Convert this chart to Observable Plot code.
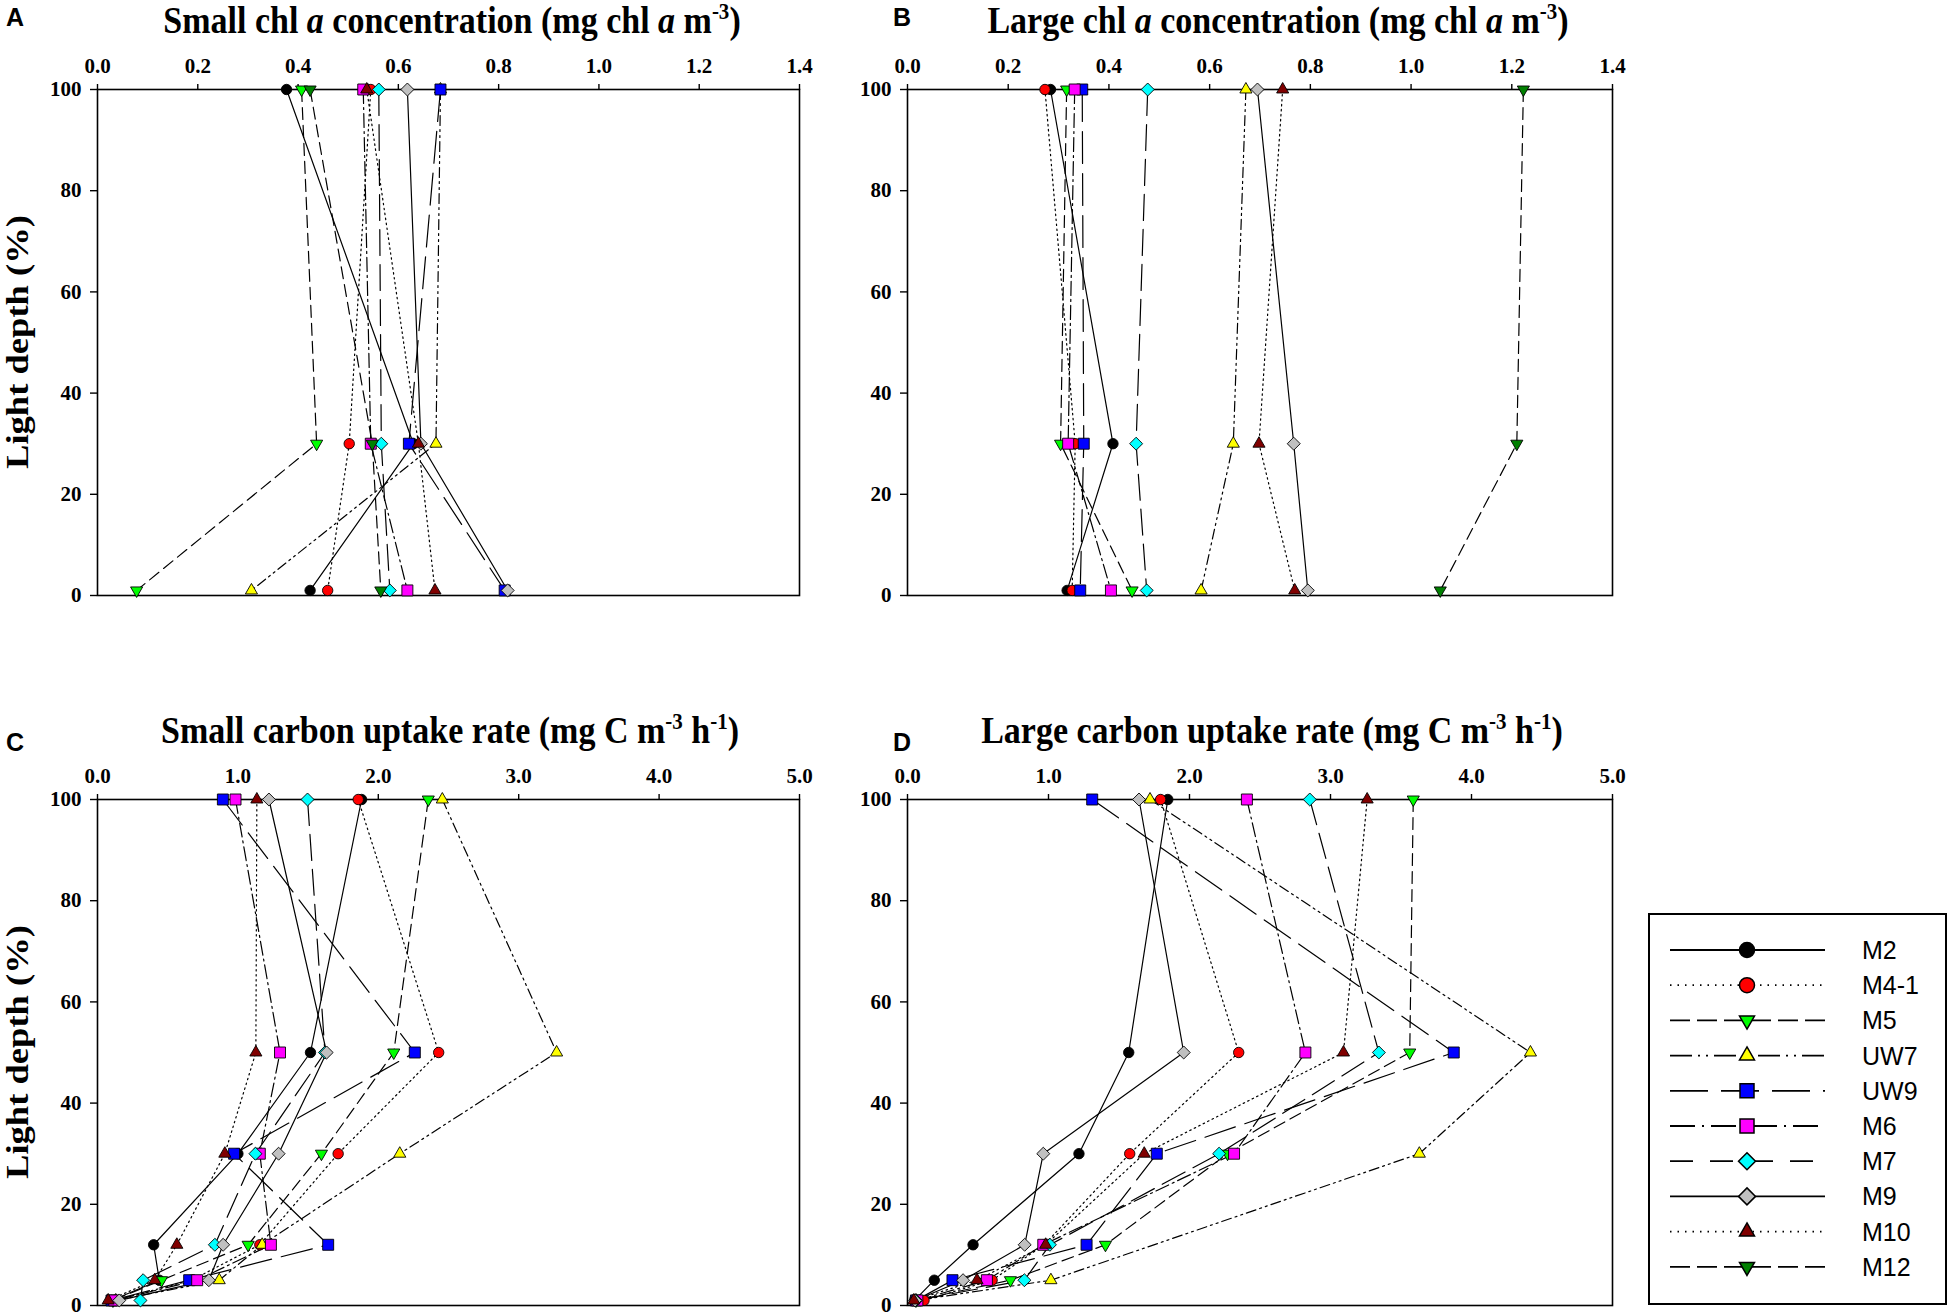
<!DOCTYPE html>
<html><head><meta charset="utf-8">
<script src="https://cdn.jsdelivr.net/npm/d3@7"></script>
<script src="https://cdn.jsdelivr.net/npm/@observablehq/plot@0.6"></script>
<style>
html,body{margin:0;padding:0;background:#fff;}
#root{position:relative;width:1950px;height:1314px;overflow:hidden;background:#fff;}
#overlay{position:absolute;left:0;top:0;pointer-events:none;}
</style></head>
<body><div id="root"></div>
<script>
// ---------- data ----------
const stations = ["M2","M4-1","M5","UW7","UW9","M6","M7","M9","M10","M12"];
const stationFill = ["#000000","#ff0000","#00ff00","#ffff00","#0000ff","#ff00ff","#00ffff","#c0c0c0","#800000","#008000"];
const stationShape = ["circle","circle","triangleDown","triangle","square","square","diamond","diamond","triangle","triangleDown"];
const stationDash = [null,"1.5,3.5","12,6","10,4,2,4,2,4","32,10","14,4,2,4","26,9",null,"1.5,3.5","12,6"];
const legendDash = [null,"1.5,6","20,7","22,6,2,6,2,6","38,13","25,7,2,7","23,17",null,"1.5,6","20,7"];

const chlDepths = [100, 30, 1];
const carbonDepths = [100, 50, 30, 12, 5, 1];

const chlTicks = [0, 0.2, 0.4, 0.6, 0.8, 1.0, 1.2, 1.4];
const carbonTicks = [0, 1, 2, 3, 4, 5];
const depthTicks = [0, 20, 40, 60, 80, 100];

// rows follow the station order, columns follow the depth order
const smallChl = [
  [0.377, 0.630, 0.424],
  [0.545, 0.502, 0.459],
  [0.407, 0.437, 0.078],
  [0.684, 0.675, 0.307],
  [0.684, 0.621, 0.812],
  [0.530, 0.545, 0.618],
  [0.561, 0.566, 0.583],
  [0.618, 0.645, 0.818],
  [0.537, 0.640, 0.673],
  [0.424, 0.548, 0.565]
];
const largeChl = [
  [0.284, 0.408, 0.317],
  [0.273, 0.333, 0.327],
  [0.316, 0.304, 0.446],
  [0.672, 0.647, 0.583],
  [0.347, 0.350, 0.343],
  [0.332, 0.319, 0.404],
  [0.477, 0.454, 0.475],
  [0.695, 0.767, 0.795],
  [0.745, 0.698, 0.769],
  [1.223, 1.210, 1.058]
];
const smallCarbon = [
  [1.881, 1.517, 1.000, 0.400, 0.440, 0.100],
  [1.857, 2.430, 1.714, 1.156, 0.670, 0.120],
  [2.356, 2.110, 1.595, 1.073, 0.456, 0.110],
  [2.456, 3.270, 2.153, 1.173, 0.867, 0.130],
  [0.893, 2.260, 0.973, 1.643, 0.653, 0.100],
  [0.983, 1.300, 1.156, 1.235, 0.710, 0.120],
  [1.496, 1.620, 1.125, 0.836, 0.325, 0.306],
  [1.221, 1.632, 1.290, 0.895, 0.793, 0.155],
  [1.135, 1.128, 0.907, 0.565, 0.408, 0.076],
  [null, null, null, null, null, null]
];
const largeCarbon = [
  [1.846, 1.569, 1.216, 0.465, 0.190, 0.050],
  [1.795, 2.349, 1.576, 0.970, 0.600, 0.117],
  [3.587, 3.562, 2.270, 1.404, 0.730, 0.060],
  [1.720, 4.418, 3.630, null, 1.017, 0.060],
  [1.310, 3.874, 1.768, 1.270, 0.319, 0.060],
  [2.407, 2.822, 2.316, 0.963, 0.563, 0.070],
  [2.853, 3.343, 2.210, 1.010, 0.829, 0.060],
  [1.642, 1.959, 0.963, 0.831, 0.394, 0.054],
  [3.260, 3.092, 1.679, 0.980, 0.493, 0.045],
  [null, null, null, null, null, null]
];

// ---------- symbols ----------
const triangleDown = {
  draw(ctx, size) {
    const y = -Math.sqrt(size / (Math.sqrt(3) * 3));
    ctx.moveTo(0, -y * 2);
    ctx.lineTo(-Math.sqrt(3) * y, y);
    ctx.lineTo(Math.sqrt(3) * y, y);
    ctx.closePath();
  }
};
const plotSymbol = {circle: "circle", square: "square", diamond: "diamond2", triangle: "triangle", triangleDown: triangleDown};
const plotR = {circle: 5.2, square: 6.2, diamond: 5.85, triangle: 4.5, triangleDown: 4.5};
const d3Symbol = {circle: d3.symbolCircle, square: d3.symbolSquare, diamond: d3.symbolDiamond2, triangle: d3.symbolTriangle, triangleDown: triangleDown};
const legendSize = {circle: 177, square: 196, diamond: 184, triangle: 97, triangleDown: 97};

const root = document.getElementById("root");
const SERIF = "'Liberation Serif','Times New Roman',Times,serif";
const SANS = "'Liberation Sans',Arial,Helvetica,sans-serif";

function panel(values, depths, xDomain, xTicks, left, top, width, height, mL, mT, mR, mB) {
  const lines = [], dots = [];
  stations.forEach((s, i) => {
    const pts = depths.map((d, j) => ({station: s, value: values[i][j], depth: d})).filter(p => p.value != null);
    if (!pts.length) return;
    const lo = {x: "value", y: "depth", stroke: "black", strokeWidth: 1.2};
    if (stationDash[i]) lo.strokeDasharray = stationDash[i];
    lines.push(Plot.line(pts, lo));
    const sh = stationShape[i];
    dots.push(Plot.dot(pts, {x: "value", y: "depth", symbol: plotSymbol[sh], r: plotR[sh],
      fill: stationFill[i], stroke: "black", strokeWidth: 0.9}));
  });
  const p = Plot.plot({
    width, height, marginLeft: mL, marginTop: mT, marginRight: mR, marginBottom: mB,
    x: {domain: xDomain},
    y: {domain: [0, 100]},
    style: {fontFamily: SERIF, fontSize: "21px", fontWeight: "bold", background: "transparent", overflow: "visible", color: "black"},
    marks: [
      Plot.axisX({anchor: "top", ticks: xTicks, tickFormat: d3.format(".1f"), tickSize: 6, tickPadding: 11, strokeWidth: 1.4, label: null}),
      Plot.axisY({anchor: "left", ticks: depthTicks, tickFormat: d3.format("d"), tickSize: 7, tickPadding: 9, strokeWidth: 1.4, label: null}),
      ...lines,
      Plot.frame({stroke: "black", strokeWidth: 1.6}),
      ...dots
    ]
  });
  p.style.position = "absolute";
  p.style.left = left + "px";
  p.style.top = top + "px";
  root.appendChild(p);
}

// top row: plot area y 89..595 ; bottom row: 799..1305
panel(smallChl, chlDepths, [0, 1.4], chlTicks, 0, 0, 850, 650, 97, 89, 51, 55);
panel(largeChl, chlDepths, [0, 1.4], chlTicks, 850, 0, 790, 650, 57, 89, 28, 55);
panel(smallCarbon, carbonDepths, [0, 5], carbonTicks, 0, 650, 850, 664, 97, 149, 51, 9);
panel(largeCarbon, carbonDepths, [0, 5], carbonTicks, 850, 650, 790, 664, 57, 149, 28, 9);

// ---------- overlay: titles, panel letters, y labels, legend ----------
const svg = d3.select(root).append("svg").attr("id", "overlay")
  .attr("width", 1950).attr("height", 1314);

const titles = [
  {cx: 452, by: 33, parts: [["Small chl "], ["a", "i"], [" concentration (mg chl "], ["a", "i"], [" m"], ["-3", "sup"], [")"]]},
  {cx: 1278, by: 33, parts: [["Large chl "], ["a", "i"], [" concentration (mg chl "], ["a", "i"], [" m"], ["-3", "sup"], [")"]]},
  {cx: 450, by: 743, parts: [["Small carbon uptake rate (mg C m"], ["-3", "sup"], [" h"], ["-1", "sup"], [")"]]},
  {cx: 1272, by: 743, parts: [["Large carbon uptake rate (mg C m"], ["-3", "sup"], [" h"], ["-1", "sup"], [")"]]}
];
titles.forEach(t => {
  const g = svg.append("g").attr("transform", `translate(${t.cx},${t.by}) scale(1,1.1)`);
  const txt = g.append("text").attr("text-anchor", "middle")
    .style("font-family", SERIF).style("font-weight", "bold").style("font-size", "34px").attr("fill", "black");
  let raised = false;
  t.parts.forEach(([s, kind]) => {
    const ts = txt.append("tspan").text(s);
    if (kind === "i") ts.style("font-style", "italic");
    if (kind === "sup") {
      ts.style("font-size", "21px").attr("dy", raised ? 0 : -13);
      raised = true;
    } else if (raised) {
      ts.attr("dy", 13);
      raised = false;
    }
  });
});

[["A", 6, 26], ["B", 893, 26], ["C", 6, 751], ["D", 893, 751]].forEach(([l, x, y]) => {
  svg.append("text").attr("x", x).attr("y", y).text(l)
    .style("font-family", SANS).style("font-weight", "bold").style("font-size", "25px").attr("fill", "black");
});

[342, 1052].forEach(cy => {
  svg.append("text").attr("transform", `translate(28,${cy}) rotate(-90) scale(1.18,1)`)
    .attr("text-anchor", "middle").text("Light depth (%)")
    .style("font-family", SERIF).style("font-weight", "bold").style("font-size", "31px").attr("fill", "black");
});

// legend
const lg = svg.append("g");
lg.append("rect").attr("x", 1649).attr("y", 914).attr("width", 297).attr("height", 390)
  .attr("fill", "white").attr("stroke", "black").attr("stroke-width", 2);
stations.forEach((s, i) => {
  const y = 950 + i * 35.2;
  const ln = lg.append("line").attr("x1", 1670).attr("x2", 1825).attr("y1", y).attr("y2", y)
    .attr("stroke", "black").attr("stroke-width", 1.8);
  if (legendDash[i]) ln.attr("stroke-dasharray", legendDash[i]);
  const sh = stationShape[i];
  lg.append("path").attr("d", d3.symbol(d3Symbol[sh], legendSize[sh])())
    .attr("transform", `translate(1747,${y})`)
    .attr("fill", stationFill[i]).attr("stroke", "black").attr("stroke-width", 1.5);
  lg.append("text").attr("x", 1862).attr("y", y + 9).text(s)
    .style("font-family", SANS).style("font-size", "25px").attr("fill", "black");
});
</script>
</body></html>
